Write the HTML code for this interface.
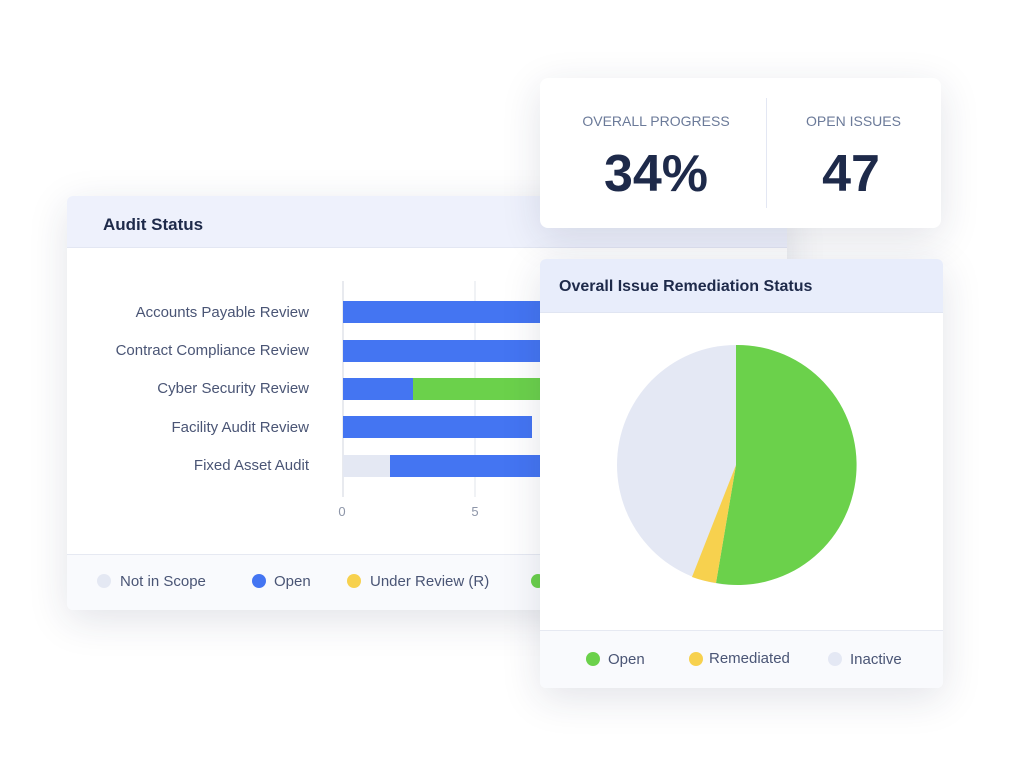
<!DOCTYPE html>
<html><head><meta charset="utf-8"><style>
body{margin:0;width:1013px;height:766px;background:#fff;position:relative;overflow:hidden;font-family:"Liberation Sans",sans-serif;}
.card{position:absolute;background:#fff;border-radius:6px;box-shadow:0 10px 40px rgba(30,40,80,0.13);overflow:hidden;}
.t{position:absolute;white-space:nowrap;}
.dot{position:absolute;width:14px;height:14px;border-radius:50%;}
</style></head><body>

<div class="card" style="left:67px;top:196px;width:720px;height:414px;">
  <div style="position:absolute;left:0;top:0;width:720px;height:51px;background:#eef1fc;border-bottom:1px solid #e3e7f3;"></div>
  <div class="t" style="left:36px;top:19px;font-size:17px;font-weight:bold;color:#1e2a4a;">Audit Status</div>
  <div style="position:absolute;left:0;top:358px;width:720px;height:56px;background:#f9fafd;border-top:1px solid #e6e9f2;"></div>
</div>

<svg style="position:absolute;left:0;top:0" width="1013" height="766">
  <line x1="343" y1="281" x2="343" y2="497" stroke="#e8eaef" stroke-width="2"/>
  <line x1="475" y1="281" x2="475" y2="497" stroke="#eceef2" stroke-width="1.5"/>
  <rect x="343" y="301" width="200" height="22" fill="#4475f2"/>
  <rect x="343" y="340" width="200" height="22" fill="#4475f2"/>
  <rect x="343" y="378" width="70" height="22" fill="#4475f2"/>
  <rect x="413" y="378" width="130" height="22" fill="#6bd14b"/>
  <rect x="343" y="416" width="189" height="22" fill="#4475f2"/>
  <rect x="343" y="455" width="47" height="22" fill="#e4e8f3"/>
  <rect x="390" y="455" width="153" height="22" fill="#4475f2"/>
  <g font-family="Liberation Sans, sans-serif" font-size="15" fill="#4a5575" text-anchor="end">
    <text x="309" y="317">Accounts Payable Review</text>
    <text x="309" y="355">Contract Compliance Review</text>
    <text x="309" y="393">Cyber Security Review</text>
    <text x="309" y="432">Facility Audit Review</text>
    <text x="309" y="470">Fixed Asset Audit</text>
  </g>
  <g font-family="Liberation Sans, sans-serif" font-size="13" fill="#8d95a8" text-anchor="middle">
    <text x="342" y="516">0</text><text x="475" y="516">5</text>
  </g>
  <g font-family="Liberation Sans, sans-serif" font-size="15" fill="#4a5575">
    <circle cx="104" cy="581" r="7" fill="#e4e8f3"/><text x="120" y="586">Not in Scope</text>
    <circle cx="259" cy="581" r="7" fill="#4475f2"/><text x="274" y="586">Open</text>
    <circle cx="354" cy="581" r="7" fill="#f7d14e"/><text x="370" y="586">Under Review (R)</text>
    <circle cx="538" cy="581" r="7" fill="#6bd14b"/>
  </g>
</svg>

<div class="card" style="left:540px;top:78px;width:401px;height:150px;border-radius:8px;">
  <div style="position:absolute;left:226px;top:20px;width:1px;height:110px;background:#e3e7f3;"></div>
  <div class="t" style="left:0;width:232px;text-align:center;top:35px;font-size:14px;color:#6b7a99;">OVERALL PROGRESS</div>
  <div class="t" style="left:226px;width:175px;text-align:center;top:35px;font-size:14px;color:#6b7a99;">OPEN ISSUES</div>
  <div class="t" style="left:0;width:232px;text-align:center;top:66px;font-size:52px;font-weight:bold;color:#1e2a4a;">34%</div>
  <div class="t" style="left:226px;width:170px;text-align:center;top:66px;font-size:52px;font-weight:bold;color:#1e2a4a;">47</div>
</div>

<div class="card" style="left:540px;top:259px;width:403px;height:429px;">
  <div style="position:absolute;left:0;top:0;width:403px;height:53px;background:#e8edfb;border-bottom:1px solid #e0e5f2;"></div>
  <div class="t" style="left:19px;top:19px;font-size:16px;font-weight:bold;color:#1e2a4a;">Overall Issue Remediation Status</div>
  <div style="position:absolute;left:0;top:371px;width:403px;height:58px;background:#f9fafd;border-top:1px solid #e6e9f2;"></div>
</div>

<svg style="position:absolute;left:0;top:0" width="1013" height="766">
  <ellipse cx="736" cy="465" rx="119" ry="120" fill="#e4e8f4"/>
  <path d="M736,465 L736,345 A119,120 0 1 1 716,583 Z" fill="#6bd14b"/>
  <path d="M736,465 L716,583 A119,120 0 0 1 692,577 Z" fill="#f7d14e"/>
  <g font-family="Liberation Sans, sans-serif" font-size="15" fill="#4a5575">
    <circle cx="593" cy="659" r="7" fill="#6bd14b"/><text x="608" y="664">Open</text>
    <circle cx="696" cy="659" r="7" fill="#f7d14e"/><text x="709" y="663">Remediated</text>
    <circle cx="835" cy="659" r="7" fill="#e4e8f4"/><text x="850" y="664">Inactive</text>
  </g>
</svg>
</body></html>
